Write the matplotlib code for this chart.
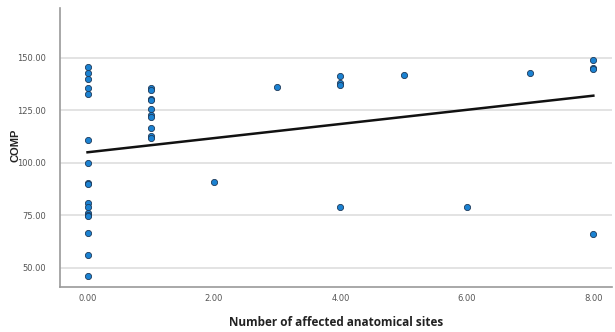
import numpy as np
import matplotlib
matplotlib.use("Agg")
import matplotlib.pyplot as plt

# Data
sites = [0]*17 + [1]*10 + [2, 3, 4, 4, 4, 4, 5, 6, 7, 8, 8, 8, 8]
comp = [145.6, 142.6, 139.9, 135.6, 133.0, 110.7, 99.9, 90.5, 89.8, 80.8, 79.0,
        75.9, 75.1, 74.6, 66.4, 55.9, 46.0,
        135.5, 134.6, 130.5, 129.8, 125.7, 122.9, 122.0, 116.7, 113.0, 111.8,
        90.8, 135.9, 141.4, 137.8, 137.1, 78.8, 141.6, 78.8, 142.6,
        148.9, 145.4, 144.8, 66.2]
x_ticks = [0, 2, 4, 6, 8]
y_ticks = [50, 75, 100, 125, 150]

x = np.array(sites, dtype=float)
y = np.array(comp)
slope, intercept = np.polyfit(x, y, 1)

fig = plt.figure(figsize=(6.15, 3.32), dpi=100)
ax = fig.add_axes([0.0976, 0.1346, 0.897, 0.841])

ax.set_xlim(-0.435, 8.29)
ax.set_ylim(40.7, 173.7)
ax.set_yticks(y_ticks)
ax.set_yticklabels([f"{v:.2f}" for v in y_ticks])
ax.set_xticks(x_ticks)
ax.set_xticklabels([f"{v:.2f}" for v in x_ticks])
ax.grid(axis="y", color="#e0e0e0", linewidth=1.3)
ax.set_axisbelow(True)

for s in ["top", "right"]:
    ax.spines[s].set_visible(False)
for s in ["left", "bottom"]:
    ax.spines[s].set_color("#9a9a9a")
    ax.spines[s].set_linewidth(1.2)

ax.tick_params(axis="both", length=0, labelsize=6, labelcolor="#555555")
ax.tick_params(axis="y", pad=10)
ax.tick_params(axis="x", pad=5)

xs = np.array([0, 8])
ax.plot(xs, intercept + slope * xs, color="#111111", linewidth=1.8, zorder=3)
ax.scatter(x, y, s=20, color="#1b82d2", edgecolor="#1e3a5a", linewidth=0.6, zorder=4)

ax.set_ylabel("COMP", fontsize=8, fontweight="bold", family="Liberation Sans",
              color="#222222")
ax.yaxis.set_label_coords(-0.072, 0.51)
ax.set_xlabel("Number of affected anatomical sites", fontsize=8.5, fontweight="bold",
              family="Open Sans", labelpad=9, color="#222222")

fig.savefig("out.png", dpi=100)
